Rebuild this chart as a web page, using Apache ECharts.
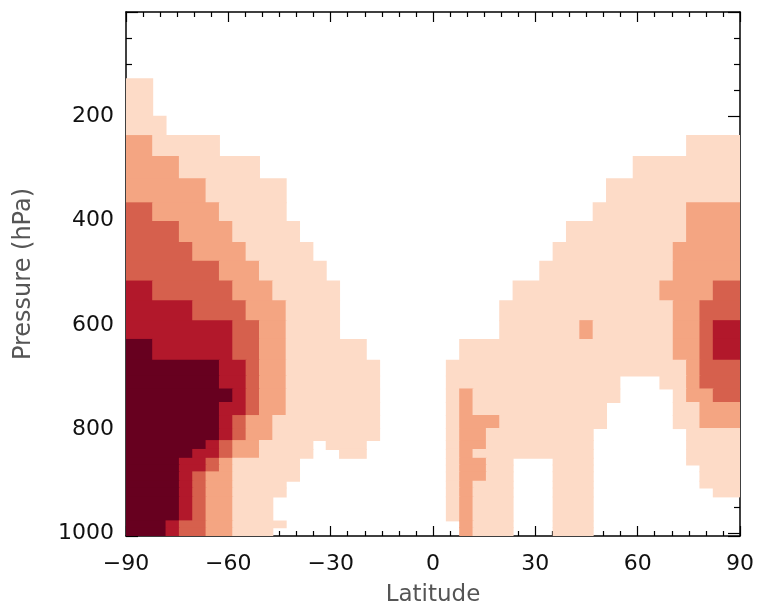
<!DOCTYPE html>
<html>
<head>
<meta charset="utf-8">
<title>Latitude - pressure</title>
<script src="https://cdn.jsdelivr.net/npm/echarts@6/dist/echarts.min.js"></script>
<style>
  html, body { margin: 0; padding: 0; background: #fff; }
  #chart { width: 757px; height: 612px; }
</style>
</head>
<body>
<div id="chart"></div>
<script>
// latitude columns: 46 equal cells between -90 and 90
const latCount = 46
const latMin = -90
const latMax = 90

// pressure cell edges in hPa, top -> bottom
const pressureEdges = [0, 128, 200, 237, 277, 320, 366, 402, 442, 478, 516, 554, 592, 628, 668,
  698, 723, 749, 774, 799, 822, 839, 856, 869, 882, 900, 913, 930, 976, 989, 1005]

// colour class of every cell: one string per pressure row, one digit per latitude column
// 0 = blank, 1..5 = light -> dark
const levelRows = [
  '0000000000' + '0000000000' + '0000000000' + '0000000000' + '000000',
  '1100000000' + '0000000000' + '0000000000' + '0000000000' + '000000',
  '1110000000' + '0000000000' + '0000000000' + '0000000000' + '000000',
  '2211111000' + '0000000000' + '0000000000' + '0000000000' + '001111',
  '2222111111' + '0000000000' + '0000000000' + '0000000011' + '111111',
  '2222221111' + '1100000000' + '0000000000' + '0000001111' + '111111',
  '3322222111' + '1100000000' + '0000000000' + '0000011111' + '112222',
  '3333222211' + '1110000000' + '0000000000' + '0001111111' + '112222',
  '3333322221' + '1111000000' + '0000000000' + '0011111111' + '122222',
  '3333333222' + '1111100000' + '0000000000' + '0111111111' + '122222',
  '4433333322' + '2111110000' + '0000000001' + '1111111111' + '222233',
  '4444433332' + '2211110000' + '0000000011' + '1111111111' + '122333',
  '4444444433' + '2211110000' + '0000000011' + '1111211111' + '122344',
  '5544444433' + '2211111100' + '0000011111' + '1111111111' + '122344',
  '5555555443' + '2211111110' + '0000111111' + '1111111111' + '112333',
  '5555555443' + '2211111110' + '0000111111' + '1111111000' + '112333',
  '5555555543' + '2211111110' + '0000121111' + '1111111000' + '012233',
  '5555555443' + '2211111110' + '0000121111' + '1111110000' + '011222',
  '5555555432' + '2111111110' + '0000122211' + '1111110000' + '011222',
  '5555555432' + '2111111110' + '0000122111' + '1111100000' + '001111',
  '5555554322' + '1111011100' + '0000122111' + '1111100000' + '001111',
  '5555544322' + '1111001100' + '0000121111' + '1111100000' + '001111',
  '5555443211' + '1110000000' + '0000122110' + '0011100000' + '001111',
  '5555443211' + '1110000000' + '0000122110' + '0011100000' + '000111',
  '5555432211' + '1110000000' + '0000122110' + '0011100000' + '000111',
  '5555432211' + '1100000000' + '0000121110' + '0011100000' + '000111',
  '5555432211' + '1100000000' + '0000121110' + '0011100000' + '000011',
  '5555432211' + '1000000000' + '0000121110' + '0011100000' + '000000',
  '5554332211' + '1100000000' + '0000021110' + '0011100000' + '000000',
  '5554332211' + '1000000000' + '0000021110' + '0011100000' + '000000'
]

const levelColors = ['#ffffff', '#fddbc7', '#f4a582', '#d6604d', '#b2182b', '#67001f']

const latEdge = i => latMin + (latMax - latMin) * i / latCount

// merge equal neighbours of a row into one rectangle
const cells = []
levelRows.forEach((row, r) => {
  let start = 0
  for (let c = 1; c <= latCount; c++) {
    if (c === latCount || row[c] !== row[start]) {
      const level = Number(row[start])
      if (level > 0) {
        cells.push([latEdge(start), latEdge(c), pressureEdges[r], pressureEdges[r + 1], level])
      }
      start = c
    }
  }
})

const fontFamily = 'DejaVu Sans'
const minus = v => (v < 0 ? '\u2212' + (-v) : String(v))

const tickLine = { color: '#000', width: 1.2 }

const xBase = {
  type: 'value',
  min: latMin,
  max: latMax,
  interval: 30,
  splitLine: { show: false },
  axisLine: { show: true, onZero: false, lineStyle: { color: '#000', width: 1.5 } },
  axisTick: { show: true, inside: true, length: 10, lineStyle: tickLine },
  minorTick: { show: true, splitNumber: 6, length: 5, lineStyle: tickLine },
  minorSplitLine: { show: false }
}

const yBase = {
  type: 'value',
  inverse: true,
  min: 0,
  max: 1005,
  interval: 200,
  splitLine: { show: false },
  axisLine: { show: true, onZero: false, lineStyle: { color: '#000', width: 1.5 } },
  axisTick: { show: true, inside: true, length: 12, lineStyle: tickLine },
  minorTick: { show: true, splitNumber: 4, length: 6, lineStyle: tickLine },
  minorSplitLine: { show: false }
}

const chart = echarts.init(document.getElementById('chart'))

chart.setOption({
  animation: false,
  backgroundColor: '#fff',
  grid: { left: 126, right: 17, top: 12, bottom: 72 },
  xAxis: [
    {
      ...xBase,
      position: 'bottom',
      name: 'Latitude',
      nameLocation: 'middle',
      nameGap: 48,
      nameTextStyle: { fontSize: 23, color: '#555', fontFamily },
      axisLabel: { fontSize: 22, color: '#111', margin: 17, fontFamily, formatter: minus }
    },
    { ...xBase, position: 'top', axisLabel: { show: false } }
  ],
  yAxis: [
    {
      ...yBase,
      position: 'left',
      name: 'Pressure (hPa)',
      nameLocation: 'middle',
      nameGap: 90,
      nameTextStyle: { fontSize: 24, color: '#555', fontFamily },
      axisLabel: {
        fontSize: 22,
        color: '#111',
        margin: 12,
        fontFamily,
        formatter: v => (v > 0 && v % 200 === 0 ? String(v) : '')
      }
    },
    { ...yBase, position: 'right', axisLabel: { show: false } }
  ],
  series: [
    {
      type: 'custom',
      xAxisIndex: 0,
      yAxisIndex: 0,
      clip: true,
      data: cells,
      encode: { x: [0, 1], y: [2, 3] },
      renderItem: (params, api) => {
        const p0 = api.coord([api.value(0), api.value(2)])
        const p1 = api.coord([api.value(1), api.value(3)])
        const color = levelColors[api.value(4)]
        // pad half a pixel so neighbouring cells meet without hairline gaps
        const x = Math.min(p0[0], p1[0]) - 0.5
        const y = Math.min(p0[1], p1[1]) - 0.5
        return {
          type: 'rect',
          shape: {
            x,
            y,
            width: Math.abs(p1[0] - p0[0]) + 1,
            height: Math.abs(p1[1] - p0[1]) + 1
          },
          style: { fill: color }
        }
      }
    }
  ]
})
</script>
</body>
</html>
